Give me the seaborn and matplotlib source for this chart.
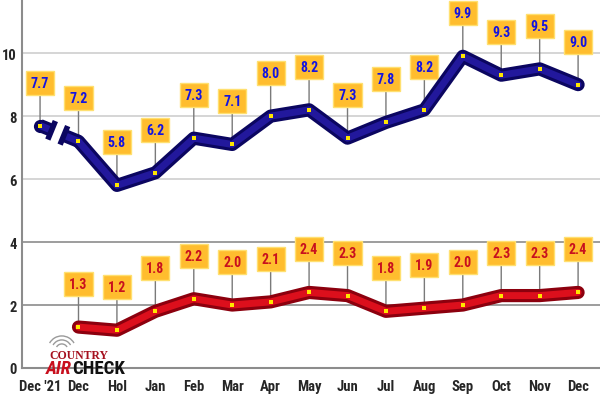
import numpy as np
import pandas as pd
import matplotlib.pyplot as plt
import seaborn as sns
from matplotlib.patches import Arc

# Data
months = ["Dec '21", "Dec", "Hol", "Jan", "Feb", "Mar", "Apr", "May", "Jun",
          "Jul", "Aug", "Sep", "Oct", "Nov", "Dec"]
blue_vals = [7.7, 7.2, 5.8, 6.2, 7.3, 7.1, 8.0, 8.2, 7.3, 7.8, 8.2, 9.9, 9.3, 9.5, 9.0]
red_vals = [np.nan, 1.3, 1.2, 1.8, 2.2, 2.0, 2.1, 2.4, 2.3, 1.8, 1.9, 2.0, 2.3, 2.3, 2.4]
y_ticks = [0, 2, 4, 6, 8, 10]

df = pd.DataFrame({'pos': range(len(months)), 'month': months,
                   'blue': blue_vals, 'red': red_vals})

sns.set_style('white')
plt.rcParams['font.family'] = ['Roboto Condensed', 'Roboto', 'DejaVu Sans']

fig = plt.figure(figsize=(6, 4.02), dpi=100)
ax = fig.add_axes([22 / 600, 33 / 402, 578 / 600, 369 / 402])
ax.set_xlim(-0.47, 14.57)
ax.set_ylim(0, 11.72)

# gridlines
for y in [6, 8, 10]:
    ax.axhline(y, color='#d2d2d2', lw=1.3, zorder=0)
for y in [2, 4]:
    ax.axhline(y, color='#8c8c8c', lw=1.2, zorder=0)

# main lines (first blue point is joined with a break)
main = df.iloc[1:]
for col, dark, light in [('blue', '#0b0660', '#22189c'), ('red', '#8c000e', '#dc0f1c')]:
    sns.lineplot(data=main, x='pos', y=col, ax=ax, color=dark, lw=9.5,
                 solid_capstyle='round', solid_joinstyle='round', zorder=3)
    sns.lineplot(data=main, x='pos', y=col, ax=ax, color=light, lw=5,
                 solid_capstyle='round', solid_joinstyle='round', zorder=3.1)

# broken first blue segment
to_disp = ax.transData.transform
to_data = ax.transData.inverted().transform
p0 = to_disp((0, blue_vals[0]))
p1 = to_disp((1, blue_vals[1]))
d = p1 - p0
u = d / np.hypot(*d)
perp = np.array([-u[1], u[0]])
for a, b in [(0, 0.3), (0.62, 1)]:
    s = to_data([p0 + a * d, p0 + b * d])
    ax.plot(s[:, 0], s[:, 1], color='#0b0660', lw=9.5, solid_capstyle='butt', zorder=3)
    ax.plot(s[:, 0], s[:, 1], color='#22189c', lw=5, solid_capstyle='butt', zorder=3.1)
ax.scatter([0], [blue_vals[0]], s=90, color='#0b0660', zorder=3, linewidths=0)
for t in [0.3, 0.62]:
    c = p0 + t * d
    s = to_data([c - perp * 10, c + perp * 10])
    ax.plot(s[:, 0], s[:, 1], color='#0b0660', lw=4, solid_capstyle='butt', zorder=3.2)

# yellow markers
for col in ['blue', 'red']:
    sub = df.dropna(subset=[col])
    ax.scatter(sub['pos'], sub[col], marker='s', s=10, color='#ffe600', zorder=4,
               linewidths=0)

# value labels
for col, tc in [('blue', '#1414e0'), ('red', '#c8101e')]:
    for x, v in zip(df['pos'], df[col]):
        if np.isnan(v):
            continue
        ax.annotate(f'{v:.1f}', xy=(x, v), xytext=(0, 31), textcoords='offset points',
                    ha='center', va='center', fontsize=10, fontweight='black', color=tc,
                    bbox=dict(boxstyle='square,pad=0.36', fc='#ffbd2e', ec='#ffe070', lw=1),
                    arrowprops=dict(arrowstyle='-', color='#7a7a7a', lw=1,
                                    shrinkA=0, shrinkB=0),
                    zorder=2)

# axes styling
tick_font = dict(fontsize=10.5, fontweight='black')
ax.set_xticks(df['pos'])
ax.set_xticklabels(months, **tick_font)
ax.set_yticks(y_ticks)
ax.set_yticklabels([str(t) for t in y_ticks], **tick_font)
ax.text(-0.47, 12, '12 ', transform=ax.transData, ha='right', va='center',
        clip_on=False, **tick_font)
ax.tick_params(axis='y', length=0, pad=4)
ax.tick_params(axis='x', direction='in', length=7, color='#666666', width=1, pad=8)
ax.set_xlabel('')
ax.set_ylabel('')
for side in ['top', 'right']:
    ax.spines[side].set_visible(False)
for side in ['left', 'bottom']:
    ax.spines[side].set_color('#8c8c8c')
    ax.spines[side].set_linewidth(1.5)

# logo
fig.text(0.132, 0.115, 'COUNTRY', color='#a5101e', fontsize=8.5, fontweight='bold',
         family='Liberation Serif', ha='center', va='center')
fig.text(0.12, 0.081, 'AIR', color='#c8101e', fontsize=13.5, fontweight='black',
         style='italic', ha='right', va='center')
fig.text(0.12, 0.081, 'CHECK', color='#111111', fontsize=13.5, fontweight='black',
         ha='left', va='center')
for r in [6, 10, 14]:
    fig.add_artist(Arc((0.103, 0.127), r / 300, r / 201, theta1=40, theta2=140,
                       transform=fig.transFigure, color='#9a9a9a', lw=1))

fig.savefig('out.png', dpi=100)
